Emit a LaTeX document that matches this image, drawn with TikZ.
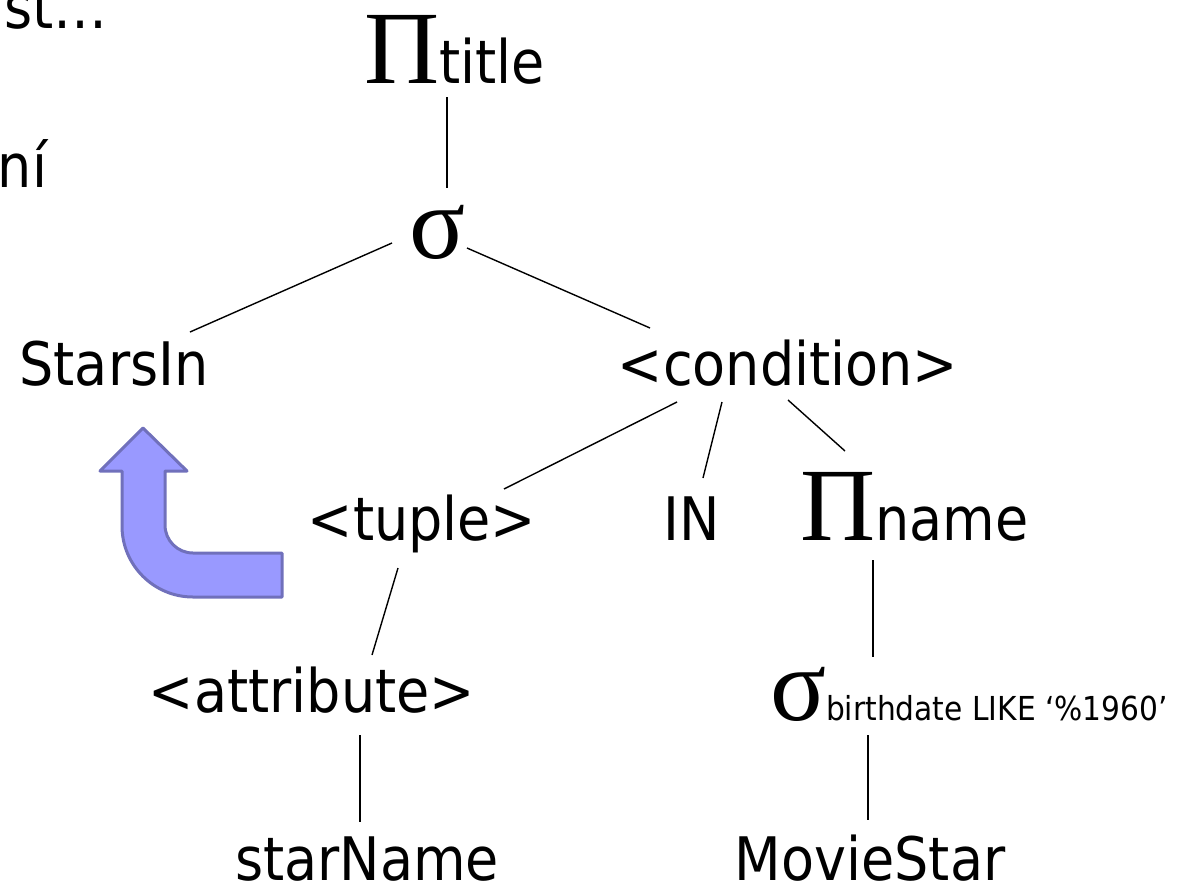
\documentclass[tikz,border=0pt]{standalone}
\usepackage{fontspec}
\setmainfont[FakeStretch=0.9]{DejaVu Sans}
\newfontfamily\grk{Liberation Serif}
\definecolor{arrowfill}{RGB}{153,153,255}
\definecolor{arrowline}{RGB}{112,112,187}
\begin{document}
\begin{tikzpicture}[x=1pt,y=-1pt,
  lbl/.style={inner sep=0pt,outer sep=0pt,font=\fontsize{60}{70}\selectfont},
  edge/.style={line width=1.4pt,black},
  bentarrow/.style={fill=arrowfill,draw=arrowline,line width=3pt,line join=round}]
\useasboundingbox (0,0) rectangle (1192,895);
\clip (0,0) rectangle (1192,895);
% partial slide text
\node[lbl,anchor=base east] (st) at (108,28) {st…};
\node[lbl,anchor=base east] (ni) at (47,187) {ní};
% tree nodes
\node[lbl,anchor=base west] (pititle) at (364,83) {{\grk\fontsize{104}{110}\selectfont Π}title};
\node[lbl,anchor=base west] (sig) at (409,258) {{\grk\fontsize{104}{110}\selectfont σ}};
\node[lbl,anchor=base] (starsin) at (114,385) {StarsIn};
\node[lbl,anchor=base] (cond) at (788,385) {<condition>};
\node[lbl,anchor=base] (tuple) at (422,540) {<tuple>};
\node[lbl,anchor=base] (in) at (692,540) {IN};
\node[lbl,anchor=base west] (piname) at (800,540) {{\grk\fontsize{104}{110}\selectfont Π}name};
\node[lbl,anchor=base] (attr) at (312,712) {<attribute>};
\node[lbl,anchor=base west] (sigbd) at (770,720) {{\grk\fontsize{104}{110}\selectfont σ}{\fontsize{33}{38}\selectfont birthdate LIKE ‘\%1960’}};
\node[lbl,anchor=base] (starname) at (367,880) {starName};
\node[lbl,anchor=base] (moviestar) at (870,880) {MovieStar};
% connectors
\draw[edge] ([shift={(83,14)}]pititle.base west) -- ([shift={(38,-70)}]sig.base west);
\draw[edge] ([shift={(-17,-15)}]sig.base west) -- ([shift={(76,-53)}]starsin.base);
\draw[edge] ([shift={(58,-10)}]sig.base west) -- ([shift={(-138,-57)}]cond.base);
\draw[edge] ([shift={(-111,17)}]cond.base) -- ([shift={(82,-51)}]tuple.base);
\draw[edge] ([shift={(-66,17)}]cond.base) -- ([shift={(11,-62)}]in.base);
\draw[edge] ([shift={(0,15)}]cond.base) -- ([shift={(45,-89)}]piname.base west);
\draw[edge] ([shift={(-24,28)}]tuple.base) -- ([shift={(60,-57)}]attr.base);
\draw[edge] ([shift={(48,23)}]attr.base) -- ([shift={(-7,-58)}]starname.base);
\draw[edge] ([shift={(73,20)}]piname.base west) -- ([shift={(103,-63)}]sigbd.base west);
\draw[edge] ([shift={(98,15)}]sigbd.base west) -- ([shift={(-2,-60)}]moviestar.base);
% bent arrow
\draw[bentarrow] (143,428) -- (187,471) -- (165,471) -- (165,525)
  .. controls (165,540.5) and (177.5,553) .. (193,553)
  -- (282,553) -- (282,597) -- (193,597)
  .. controls (153.8,597) and (122,565.2) .. (122,526)
  -- (122,471) -- (100,471) -- cycle;
\end{tikzpicture}
\end{document}
